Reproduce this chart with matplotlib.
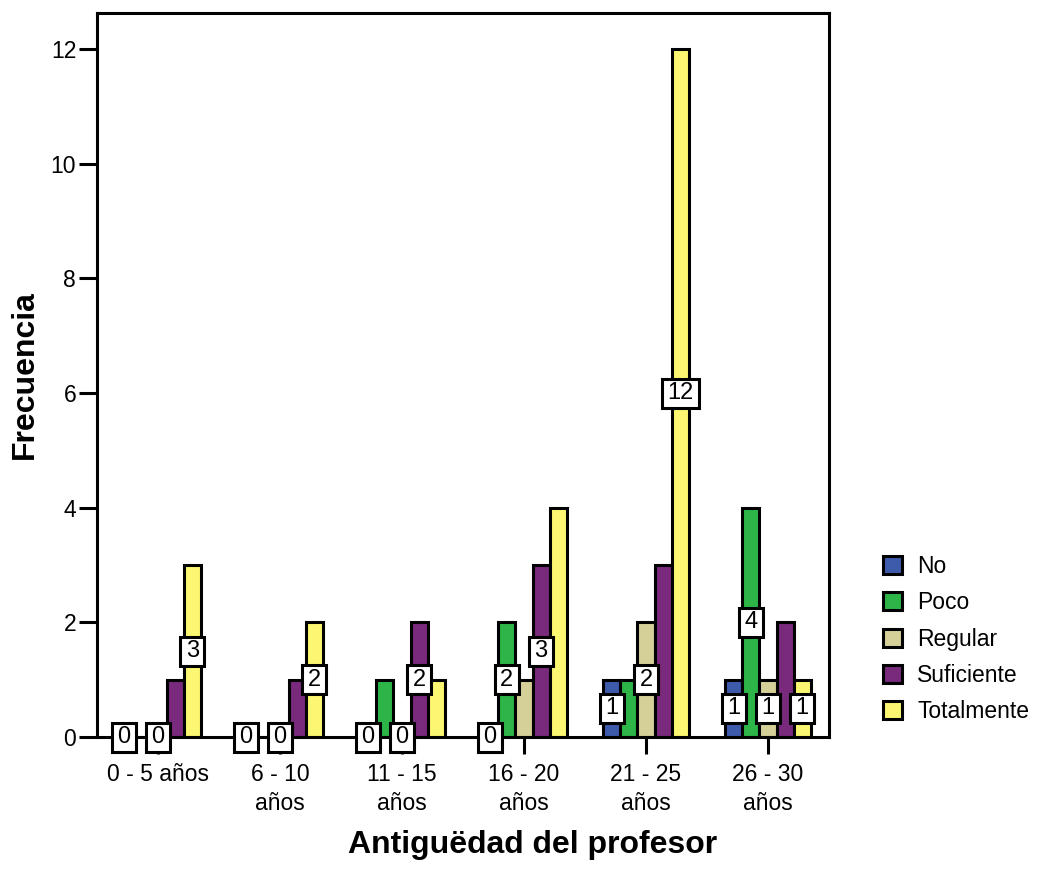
import matplotlib
matplotlib.use("Agg")
import matplotlib.pyplot as plt
from matplotlib.patches import Patch
from matplotlib.path import Path
import numpy as np

plt.rcParams['font.family'] = ['Liberation Sans', 'DejaVu Sans']

categories = ["0 - 5 años", "6 - 10\naños", "11 - 15\naños", "16 - 20\naños", "21 - 25\naños", "26 - 30\naños"]
series_names = ["No", "Poco", "Regular", "Suficiente", "Totalmente"]
no_vals = [0, 0, 0, 0, 1, 1]
poco_vals = [0, 0, 1, 2, 1, 4]
regular_vals = [0, 0, 0, 1, 2, 1]
suficiente_vals = [1, 1, 2, 3, 3, 2]
totalmente_vals = [3, 2, 1, 4, 12, 1]
# which value labels are shown (SPSS suppresses overlapping labels)
no_shown = [1, 1, 1, 1, 1, 1]
poco_shown = [0, 0, 0, 1, 0, 1]
regular_shown = [1, 1, 1, 0, 1, 1]
suficiente_shown = [0, 0, 1, 1, 0, 0]
totalmente_shown = [1, 1, 0, 0, 1, 1]
colors = ["#3d5aab", "#2db548", "#d5cf98", "#7a2a7c", "#fbf770"]
yticks = [0, 2, 4, 6, 8, 10, 12]

all_vals = [no_vals, poco_vals, regular_vals, suficiente_vals, totalmente_vals]
all_shown = [no_shown, poco_shown, regular_shown, suficiente_shown, totalmente_shown]


def label_box(x0, y0, width, height, mutation_size):
    px, py = 5.5, 3.5
    l, r = x0 - px, x0 + width + px
    b, t = y0 - py, y0 + height + py
    return Path([(l, b), (r, b), (r, t), (l, t), (l, b)],
                [Path.MOVETO, Path.LINETO, Path.LINETO, Path.LINETO, Path.CLOSEPOLY])


W, H = 1040, 882
fig = plt.figure(figsize=(W / 100, H / 100), dpi=100)
ax = fig.add_axes([97 / W, 1 - 737 / H, (829 - 97) / W, (737 - 13) / H])

x = np.arange(len(categories))
bw = 0.14
for i, (vals, col) in enumerate(zip(all_vals, colors)):
    ax.bar(x + (i - 2) * bw, vals, width=bw, color=col, edgecolor="black",
           linewidth=2.2, zorder=2)

for i, (vals, shown) in enumerate(zip(all_vals, all_shown)):
    for j, v in enumerate(vals):
        if shown[j]:
            ax.text(x[j] + (i - 2) * bw, v / 2, str(v), ha="center", va="center",
                    fontsize=17, zorder=5, clip_on=False,
                    bbox=dict(boxstyle=label_box, fc="white", ec="black", lw=2.2))

ax.set_xlim(-0.5, 5.5)
ax.set_ylim(0, 12.63)
ax.set_yticks(yticks)
ax.set_xticks(x)
ax.set_xticklabels(categories, fontsize=16.5, linespacing=1.3)
ax.tick_params(axis="y", labelsize=16.5, length=13, width=2.2, pad=2)
ax.tick_params(axis="x", length=12, width=2.2, pad=7)
for s in ax.spines.values():
    s.set_linewidth(2.2)
    s.set_zorder(3)

fig.text(25 / W, 1 - 375 / H, "Frecuencia", rotation=90, ha="center", va="center",
         fontsize=23, fontweight="bold")
fig.text(533 / W, 1 - 845 / H, "Antiguëdad del profesor", ha="center", va="center",
         fontsize=23, fontweight="bold")

handles = [Patch(facecolor=c, edgecolor="black", linewidth=2.2, label=n)
           for c, n in zip(colors, series_names)]
fig.legend(handles=handles, loc="upper left", bbox_to_anchor=(883 / W, 1 - 555 / H),
           frameon=False, fontsize=16.5, handlelength=0.85, handleheight=0.85,
           handletextpad=0.65, labelspacing=0.58, borderaxespad=0, borderpad=0)

fig.savefig("out.png", dpi=100)
